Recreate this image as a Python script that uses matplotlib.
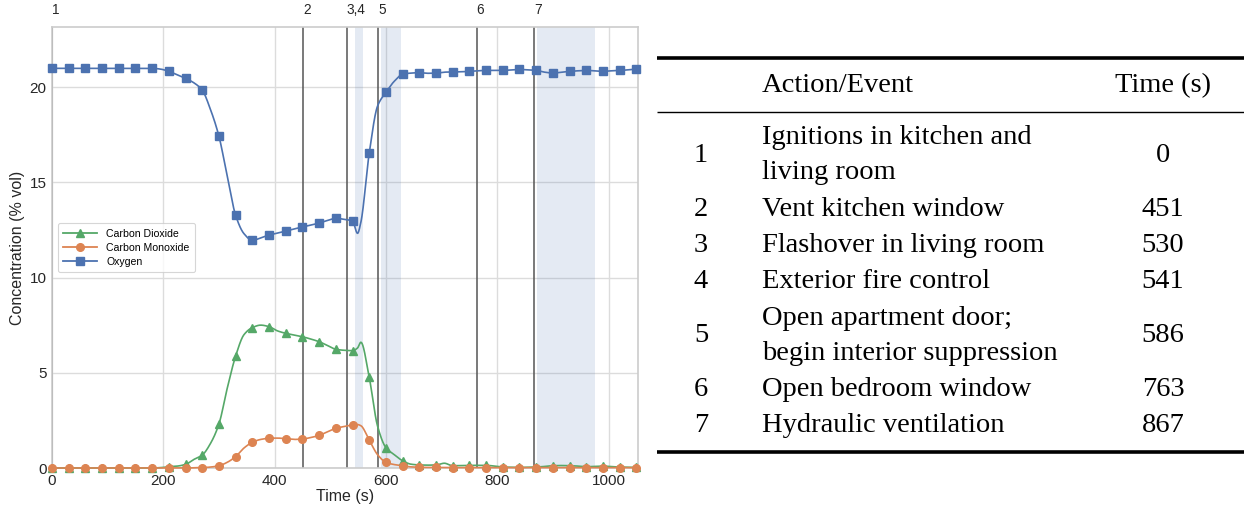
import numpy as np
import matplotlib
matplotlib.use("Agg")
import matplotlib.pyplot as plt
from matplotlib.lines import Line2D

# ---- gas concentration data (% vol) ----
time_s = [0, 15, 30, 45, 60, 75, 90, 105, 120, 135, 150, 165, 180, 195, 210, 225,
          240, 255, 270, 285, 300, 315, 330, 345, 360, 375, 390, 405, 420, 435,
          450, 465, 480, 495, 510, 525, 540, 549, 555, 570, 585, 600, 615, 630,
          645, 660, 675, 690, 705, 720, 735, 750, 765, 780, 795, 810, 825, 840,
          855, 870, 885, 900, 915, 930, 945, 960, 975, 990, 1005, 1020, 1035, 1050]

oxygen = [20.98, 20.98, 20.98, 20.98, 20.98, 20.98, 20.98, 20.98, 20.98, 20.98,
          20.98, 20.98, 20.98, 20.94, 20.82, 20.64, 20.45, 20.22, 19.83, 18.8,
          17.41, 15.3, 13.26, 12.3, 11.95, 12.08, 12.23, 12.33, 12.44, 12.55,
          12.65, 12.75, 12.86, 13.0, 13.11, 13.05, 12.97, 12.32, 12.9, 16.52,
          19.0, 19.72, 20.3, 20.67, 20.73, 20.75, 20.72, 20.73, 20.78, 20.79,
          20.8, 20.82, 20.85, 20.87, 20.87, 20.87, 20.9, 20.92, 20.9, 20.87,
          20.78, 20.73, 20.78, 20.82, 20.85, 20.87, 20.85, 20.82, 20.85, 20.87,
          20.9, 20.94]

carbon_dioxide = [0.0, 0.0, 0.0, 0.0, 0.0, 0.0, 0.0, 0.0, 0.0, 0.0,
                  0.0, 0.0, 0.0, 0.02, 0.07, 0.1, 0.19, 0.45, 0.68, 1.3,
                  2.31, 4.2, 5.88, 7.0, 7.37, 7.5, 7.42, 7.2, 7.07, 6.98,
                  6.89, 6.77, 6.63, 6.43, 6.23, 6.18, 6.16, 6.3, 6.6, 4.76,
                  2.2, 1.07, 0.7, 0.38, 0.2, 0.16, 0.15, 0.16, 0.25, 0.12,
                  0.13, 0.14, 0.14, 0.14, 0.1, 0.05, 0.04, 0.03, 0.04, 0.05,
                  0.08, 0.12, 0.13, 0.12, 0.1, 0.07, 0.08, 0.1, 0.07, 0.05,
                  0.04, 0.03]

carbon_monoxide = [0.0, 0.0, 0.0, 0.0, 0.0, 0.0, 0.0, 0.0, 0.0, 0.0,
                   0.0, 0.0, 0.0, 0.0, 0.0, 0.0, 0.0, 0.01, 0.02, 0.05,
                   0.12, 0.3, 0.6, 1.05, 1.35, 1.5, 1.56, 1.57, 1.54, 1.5,
                   1.52, 1.6, 1.71, 1.9, 2.08, 2.18, 2.26, 2.28, 2.22, 1.47,
                   0.7, 0.3, 0.18, 0.12, 0.06, 0.04, 0.03, 0.03, 0.03, 0.02,
                   0.02, 0.02, 0.02, 0.02, 0.02, 0.02, 0.02, 0.02, 0.02, 0.02,
                   0.02, 0.02, 0.02, 0.02, 0.02, 0.02, 0.02, 0.02, 0.02, 0.02,
                   0.02, 0.02]

marker_step_s = 30

# ---- events and shaded intervals ----
event_labels = ["1", "2", "3,4", "5", "6", "7"]
event_times = [0, 451, 530, 586, 763, 867]
shaded_spans = [(545, 558), (591, 627), (872, 975)]

# ---- table contents ----
table_ids = ["1", "2", "3", "4", "5", "6", "7"]
table_actions = ["Ignitions in kitchen and\nliving room", "Vent kitchen window",
                 "Flashover in living room", "Exterior fire control",
                 "Open apartment door;\nbegin interior suppression",
                 "Open bedroom window", "Hydraulic ventilation"]
table_times = ["0", "451", "530", "541", "586", "763", "867"]

C_CO2 = "#55A868"
C_CO = "#DD8452"
C_O2 = "#4C72B0"

W, H = 1244, 505
plt.rcParams["font.family"] = ["Liberation Sans", "DejaVu Sans"]
fig = plt.figure(figsize=(W / 100, H / 100), dpi=100)


def fx(px):
    return px / W


def fy(py):
    return 1 - py / H


def pchip(x, y, xn):
    """Shape-preserving cubic through the samples."""
    x = np.asarray(x, float)
    y = np.asarray(y, float)
    h = np.diff(x)
    d = np.diff(y) / h
    m = np.zeros_like(y)
    for k in range(1, len(x) - 1):
        if d[k - 1] * d[k] > 0:
            w1 = 2 * h[k] + h[k - 1]
            w2 = h[k] + 2 * h[k - 1]
            m[k] = (w1 + w2) / (w1 / d[k - 1] + w2 / d[k])
    m[0], m[-1] = d[0], d[-1]
    idx = np.clip(np.searchsorted(x, xn) - 1, 0, len(x) - 2)
    t = (xn - x[idx]) / h[idx]
    h00 = 2 * t**3 - 3 * t**2 + 1
    h10 = t**3 - 2 * t**2 + t
    h01 = -2 * t**3 + 3 * t**2
    h11 = t**3 - t**2
    return (h00 * y[idx] + h10 * h[idx] * m[idx]
            + h01 * y[idx + 1] + h11 * h[idx] * m[idx + 1])


ax = fig.add_axes([fx(52), fy(468), fx(638 - 52), (468 - 27) / H])
ax.set_facecolor("white")
ax.set_xlim(0, 1053)
ax.set_ylim(0, 23.15)
ax.set_xticks(range(0, 1001, 200))
ax.set_yticks(range(0, 21, 5))
ax.grid(True, color="#dcdcdc", lw=1.0, zorder=0)
ax.set_axisbelow(True)
for s in ax.spines.values():
    s.set_color("#cccccc")
    s.set_linewidth(1.2)
ax.tick_params(length=0, labelsize=11, colors="#262626", pad=4)
ax.set_xlabel("Time (s)", fontsize=11.5, color="#262626", labelpad=1)
ax.set_ylabel("Concentration (% vol)", fontsize=11.5, color="#262626", labelpad=3)

for a, b in shaded_spans:
    ax.axvspan(a, b, color=C_O2, alpha=0.15, lw=0, zorder=1)

for lab, t in zip(event_labels, event_times):
    ax.axvline(t, color="#555555", lw=1.3, alpha=0.85, zorder=2)
    ax.text(t, 1.022, lab, transform=ax.get_xaxis_transform(), ha="left",
            va="bottom", fontsize=9.8, color="#262626")

tt = np.array(time_s, float)
tf = np.linspace(0, 1050, 2101)
mask = (tt % marker_step_s) == 0
series = [("Carbon Dioxide", carbon_dioxide, C_CO2, "^", 5.5),
          ("Carbon Monoxide", carbon_monoxide, C_CO, "o", 5.5),
          ("Oxygen", oxygen, C_O2, "s", 5.5)]
handles = []
for name, vals, col, mk, ms in series:
    v = np.array(vals, float)
    ax.plot(tf, pchip(tt, v, tf), color=col, lw=1.2, zorder=3, clip_on=False)
    ax.plot(tt[mask], v[mask], ls="none", marker=mk, ms=ms, color=col,
            zorder=4, clip_on=False)
    handles.append(Line2D([], [], color=col, lw=1.3, marker=mk, ms=5.5, label=name))

leg = ax.legend(handles=handles, loc="upper left", bbox_to_anchor=(0.001, 0.567),
                fontsize=7.6, frameon=True, borderpad=0.5, handlelength=3.2,
                labelspacing=0.38, handletextpad=0.9)
leg.get_frame().set_edgecolor("#cccccc")
leg.get_frame().set_linewidth(0.8)

# ---- table of actions/events ----
serif = ["Liberation Serif", "DejaVu Serif"]
fs = 20.5
x0, x1 = 657, W + 5
for y, lw in [(58, 3.6), (112, 1.4), (452, 3.6)]:
    fig.add_artist(Line2D([fx(x0), fx(x1)], [fy(y), fy(y)], color="black",
                          lw=lw * 0.72, solid_capstyle="butt"))
x_id, x_act, x_time = 701, 762, 1163
fig.text(fx(x_act), fy(86), "Action/Event", family=serif, fontsize=fs,
         ha="left", va="center")
fig.text(fx(x_time), fy(86), "Time (s)", family=serif, fontsize=fs,
         ha="center", va="center")
row_centers = [155, 210, 245, 281, 336, 389, 425]
for i, a, t, yc in zip(table_ids, table_actions, table_times, row_centers):
    fig.text(fx(x_id), fy(yc), i, family=serif, fontsize=fs, ha="center", va="center")
    fig.text(fx(x_act), fy(yc), a, family=serif, fontsize=fs, ha="left",
             va="center", linespacing=1.55)
    fig.text(fx(x_time), fy(yc), t, family=serif, fontsize=fs, ha="center", va="center")

fig.savefig("out.png", dpi=100)
